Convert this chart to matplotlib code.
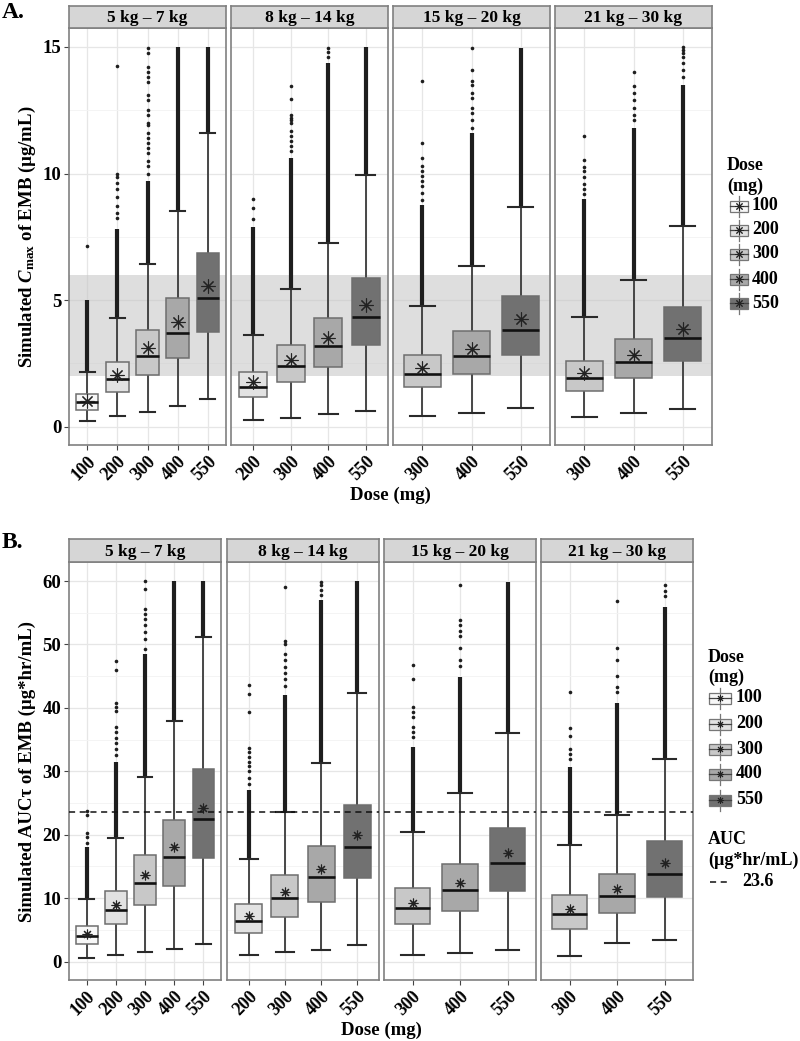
# ============================================================
# EMB SIMULATED CMAX / AUC BOXPLOTS BY WEIGHT BAND AND DOSE
# ============================================================

# =========================
# IMPORTS
# =========================
import numpy as np
import matplotlib
matplotlib.use("Agg")
import matplotlib.pyplot as plt
import matplotlib.transforms as mtransforms
from matplotlib.patches import Rectangle

plt.rcParams["font.family"] = ["Liberation Serif", "DejaVu Serif"]
plt.rcParams["font.weight"] = "bold"
plt.rcParams["mathtext.fontset"] = "custom"
plt.rcParams["mathtext.rm"] = "Liberation Serif:bold"
plt.rcParams["mathtext.it"] = "Liberation Serif:italic:bold"
plt.rcParams["mathtext.bf"] = "Liberation Serif:bold"

# =========================
# 1) DATA (READ OFF THE FIGURE)
# =========================
PANELS = ["5 kg – 7 kg", "8 kg – 14 kg", "15 kg – 20 kg", "21 kg – 30 kg"]
DOSES = [[100, 200, 300, 400, 550], [200, 300, 400, 550], [300, 400, 550], [300, 400, 550]]
DOSE_LEVELS = [100, 200, 300, 400, 550]
DOSE_COLORS = ["#F7F7F7", "#E2E2E2", "#C8C8C8", "#A8A8A8", "#717171"]

# CMAX (ug/mL)
CMAX_LO = [[0.21, 0.43, 0.59, 0.83, 1.08], [0.25, 0.36, 0.49, 0.63], [0.43, 0.55, 0.76], [0.39, 0.53, 0.72]]
CMAX_Q1 = [[0.68, 1.38, 2.04, 2.72, 3.75], [1.17, 1.76, 2.36, 3.21], [1.57, 2.07, 2.83], [1.43, 1.91, 2.61]]
CMAX_MED = [[0.96, 1.87, 2.80, 3.71, 5.10], [1.59, 2.40, 3.19, 4.34], [2.10, 2.80, 3.83], [1.93, 2.57, 3.51]]
CMAX_Q3 = [[1.29, 2.54, 3.82, 5.07, 6.88], [2.16, 3.24, 4.30, 5.88], [2.83, 3.79, 5.18], [2.58, 3.45, 4.72]]
CMAX_HI = [[2.16, 4.30, 6.42, 8.54, 11.62], [3.63, 5.44, 7.26, 9.94], [4.76, 6.36, 8.67], [4.34, 5.79, 7.92]]
CMAX_MEAN = [[1.00, 2.05, 3.10, 4.12, 5.55], [1.76, 2.65, 3.51, 4.79], [2.34, 3.09, 4.24], [2.14, 2.84, 3.88]]
# top of the solid run of outliers above each upper whisker
CMAX_DENSE = [[5.0, 7.8, 9.7, 15.0, 15.0], [7.9, 10.6, 14.35, 15.0], [8.76, 11.6, 14.96], [9.0, 11.8, 13.5]]
# isolated outliers above the solid run
CMAX_FLIERS = [
    [[7.15],
     [8.24, 8.43, 8.7, 9.09, 9.4, 9.63, 9.87, 10.0, 14.26],
     [10.0, 10.3, 10.5, 10.8, 11.0, 11.2, 11.4, 11.6, 11.9, 12.0, 12.3, 12.5, 12.9, 13.1,
      13.6, 13.8, 14.0, 14.2, 14.75, 14.96],
     [],
     []],
    [[8.2, 8.64, 8.99],
     [10.9, 11.1, 11.3, 11.5, 11.7, 12.0, 12.1, 12.2, 12.3, 12.95, 13.47],
     [14.6, 14.8, 14.95],
     []],
    [[8.96, 9.22, 9.5, 9.7, 9.9, 10.1, 10.3, 10.6, 11.2, 13.67],
     [11.8, 12.1, 12.4, 12.6, 13.0, 13.2, 13.5, 13.65, 14.1, 14.96],
     []],
    [[9.2, 9.4, 9.6, 9.85, 10.1, 10.25, 10.54, 11.5],
     [12.1, 12.3, 12.6, 12.9, 13.2, 13.47, 14.03],
     [13.8, 14.1, 14.35, 14.6, 14.75, 14.9, 15.0]],
]
CMAX_BAND = [2.0, 6.0]

# AUC TAU (ug*hr/mL)
AUC_LO = [[0.53, 1.0, 1.48, 1.95, 2.79], [1.0, 1.48, 1.89, 2.58], [1.0, 1.42, 1.79], [0.85, 3.0, 3.42]]
AUC_Q1 = [[2.74, 5.89, 8.88, 11.97, 16.38], [4.47, 6.99, 9.40, 13.13], [5.89, 8.03, 11.18], [5.10, 7.67, 10.24]]
AUC_MED = [[4.0, 8.14, 12.35, 16.44, 22.52], [6.46, 10.03, 13.29, 18.11], [8.5, 11.34, 15.54], [7.56, 10.3, 13.86]]
AUC_Q3 = [[5.62, 11.18, 16.76, 22.26, 30.3], [9.09, 13.6, 18.17, 24.72], [11.65, 15.39, 21.1], [10.46, 13.76, 18.96]]
AUC_HI = [[9.92, 19.43, 29.04, 38.0, 51.2], [16.13, 23.62, 31.24, 42.3], [20.38, 26.57, 36.1], [18.33, 23.1, 31.97]]
AUC_MEAN = [[4.41, 8.98, 13.6, 18.06, 24.25], [7.2, 10.98, 14.55, 19.9], [9.29, 12.35, 17.07], [8.25, 11.4, 15.5]]
AUC_DENSE = [[18.1, 31.5, 48.5, 60.0, 60.0], [27.0, 42.0, 57.0, 60.0], [33.86, 44.9, 59.9], [30.7, 40.7, 55.9]]
AUC_FLIERS = [
    [[18.7, 19.6, 20.2, 23.1, 23.8],
     [32.5, 33.5, 34.5, 35.3, 36.2, 37.0, 39.5, 40.2, 40.7, 46.05, 47.4],
     [49.3, 50.8, 52.0, 53.0, 54.0, 54.8, 55.6, 58.8, 60.0],
     [],
     []],
    [[28.0, 29.0, 30.0, 30.8, 31.5, 32.3, 33.0, 33.6, 39.4, 42.2, 43.6],
     [43.5, 44.5, 45.5, 46.5, 47.5, 48.5, 50.0, 50.6, 59.06],
     [57.8, 58.6, 59.3, 59.8],
     []],
    [[35.4, 36.2, 37.0, 38.6, 39.4, 40.2, 44.6, 46.8],
     [46.6, 47.5, 49.4, 51.4, 52.2, 53.0, 53.8, 59.4],
     []],
    [[31.9, 32.7, 33.5, 35.6, 36.9, 42.5],
     [42.5, 43.3, 45.0, 47.5, 49.4, 56.8],
     [57.7, 58.5, 59.3]],
]
AUC_TARGET = 23.6

# =========================
# 2) LAYOUT (PIXELS)
# =========================
W, H = 800, 1041
A_LEFTS = [69, 231, 393, 555]
A_WIDTH = 157
A_TOP, A_BOTTOM, A_STRIP = 28, 445, 22
B_LEFTS = [69, 227, 384, 541]
B_WIDTH = 152
B_TOP, B_BOTTOM, B_STRIP = 562, 980, 23

EDGE = "#6E6E6E"
FRAME = "#808080"
GRID_MAJOR = "#E6E6E6"
GRID_MINOR = "#F3F3F3"


def PX_AXES(FIG, LEFT, TOP, WIDTH, HEIGHT):
    return FIG.add_axes([LEFT / W, 1 - (TOP + HEIGHT) / H, WIDTH / W, HEIGHT / H])


def DRAW_STRIP(FIG, LEFT, TOP, WIDTH, HEIGHT, LABEL):
    SAX = PX_AXES(FIG, LEFT, TOP, WIDTH, HEIGHT)
    SAX.set_facecolor("#D6D6D6")
    SAX.set_xticks([])
    SAX.set_yticks([])
    for S in SAX.spines.values():
        S.set_color(FRAME)
        S.set_linewidth(1.2)
    SAX.text(0.5, 0.45, LABEL, ha="center", va="center", fontsize=12.5,
             fontweight="bold", transform=SAX.transAxes)


def DRAW_PANEL(AX, I, LO, Q1, MED, Q3, HI, MEAN, DENSE, FLIERS, YLIM, MAJOR, MINOR, STAR, SHOW_Y):
    N = len(DOSES[I])
    POS = np.arange(1, N + 1)
    STATS = []
    for J in range(N):
        STATS.append(dict(whislo=LO[I][J], q1=Q1[I][J], med=MED[I][J], q3=Q3[I][J],
                          whishi=HI[I][J], mean=MEAN[I][J], fliers=FLIERS[I][J]))

    # solid columns of outliers
    AX.vlines(POS, HI[I], DENSE[I], color="#1E1E1E", lw=3.0, zorder=2)

    BP = AX.bxp(STATS, positions=POS, widths=0.75, capwidths=0.5, patch_artist=True,
                showmeans=True, showfliers=True,
                boxprops=dict(edgecolor=EDGE, linewidth=1.1),
                whiskerprops=dict(color="#3A3A3A", linewidth=1.3),
                capprops=dict(color="#2A2A2A", linewidth=1.5),
                medianprops=dict(color="#111111", linewidth=1.9),
                meanprops=dict(marker=(8, 2, 0), markersize=STAR, markeredgecolor="#222222",
                               markerfacecolor="#222222", markeredgewidth=0.8),
                flierprops=dict(marker="o", markersize=2.6, markerfacecolor="#1E1E1E",
                                markeredgecolor="none"))
    for PATCH, DOSE in zip(BP["boxes"], DOSES[I]):
        PATCH.set_facecolor(DOSE_COLORS[DOSE_LEVELS.index(DOSE)])
        PATCH.set_zorder(3)
    for LINE in BP["medians"] + BP["means"]:
        LINE.set_zorder(4)

    AX.set_xlim(0.4, N + 0.6)
    AX.set_ylim(*YLIM)
    AX.set_xticks(POS)
    AX.set_xticklabels([str(D) for D in DOSES[I]], rotation=45, ha="right", va="top",
                       rotation_mode="anchor", fontsize=13, fontweight="bold")
    # nudge rotated labels a little right, as in the original
    SHIFT = mtransforms.ScaledTranslation(0.05, 0, AX.figure.dpi_scale_trans)
    for LBL in AX.get_xticklabels():
        LBL.set_transform(LBL.get_transform() + SHIFT)
    AX.set_yticks(MAJOR)
    AX.set_yticks(MINOR, minor=True)
    AX.tick_params(axis="y", which="minor", length=0)
    AX.tick_params(axis="both", which="major", length=3.5, width=0.8, color="#444444", pad=2)
    if SHOW_Y:
        AX.set_yticklabels([str(int(V)) for V in MAJOR], fontsize=13.5, fontweight="bold")
    else:
        AX.tick_params(axis="y", which="major", length=0, labelleft=False)
    AX.grid(True, which="major", color=GRID_MAJOR, lw=0.9, zorder=0)
    AX.grid(True, which="minor", axis="y", color=GRID_MINOR, lw=0.6, zorder=0)
    AX.set_axisbelow(True)
    for S in AX.spines.values():
        S.set_color(FRAME)
        S.set_linewidth(1.2)


def LEGEND_KEY(OV, X0, X1, YC, COLOR, HALF_H, STAR):
    XM = (X0 + X1) / 2
    OV.plot([XM, XM], [YC - HALF_H - 5, YC + HALF_H + 5], color="#777777", lw=0.9)
    OV.add_patch(Rectangle((X0, YC - HALF_H), X1 - X0, 2 * HALF_H, facecolor=COLOR,
                           edgecolor="#777777", lw=0.9))
    OV.plot([X0, X1], [YC, YC], color="#444444", lw=0.9)
    OV.plot([XM], [YC], marker=(8, 2, 0), markersize=STAR, color="#222222", mew=0.7)


# =========================
# 3) FIGURE
# =========================
FIG = plt.figure(figsize=(W / 100, H / 100), dpi=100)

# panel A: Cmax
for I in range(4):
    AX = PX_AXES(FIG, A_LEFTS[I], A_TOP, A_WIDTH, A_BOTTOM - A_TOP)
    AX.axhspan(CMAX_BAND[0], CMAX_BAND[1], color="#C4C4C4", alpha=0.55, lw=0, zorder=1)
    DRAW_PANEL(AX, I, CMAX_LO, CMAX_Q1, CMAX_MED, CMAX_Q3, CMAX_HI, CMAX_MEAN, CMAX_DENSE,
               CMAX_FLIERS, (-0.72, 15.75), [0, 5, 10, 15], [2.5, 7.5, 12.5], 10, I == 0)
    DRAW_STRIP(FIG, A_LEFTS[I], A_TOP - A_STRIP, A_WIDTH, A_STRIP, PANELS[I])

# panel B: AUC
for I in range(4):
    AX = PX_AXES(FIG, B_LEFTS[I], B_TOP, B_WIDTH, B_BOTTOM - B_TOP)
    AX.axhline(AUC_TARGET, color="#111111", lw=1.1, ls=(0, (4, 3)), zorder=5)
    DRAW_PANEL(AX, I, AUC_LO, AUC_Q1, AUC_MED, AUC_Q3, AUC_HI, AUC_MEAN, AUC_DENSE,
               AUC_FLIERS, (-2.9, 63.0), list(range(0, 61, 10)), list(range(5, 60, 10)), 7, I == 0)
    DRAW_STRIP(FIG, B_LEFTS[I], B_TOP - B_STRIP, B_WIDTH, B_STRIP, PANELS[I])

# =========================
# 4) TEXT + LEGENDS (OVERLAY IN PIXELS)
# =========================
OV = FIG.add_axes([0, 0, 1, 1])
OV.set_xlim(0, W)
OV.set_ylim(H, 0)
OV.axis("off")

OV.text(2, 12, "A.", fontsize=17, fontweight="bold", ha="left", va="center")
OV.text(2, 542, "B.", fontsize=17, fontweight="bold", ha="left", va="center")

OV.text(27, 237, r"Simulated $\mathit{C}_{\mathrm{max}}$ of EMB (µg/mL)", rotation=90,
        fontsize=13.5, fontweight="bold", ha="center", va="center")
OV.text(27, 771, "Simulated AUCτ of EMB (µg*hr/mL)", rotation=90,
        fontsize=13.5, fontweight="bold", ha="center", va="center")

OV.text(390, 495, "Dose (mg)", fontsize=13.5, fontweight="bold", ha="center", va="center")
OV.text(381, 1030, "Dose (mg)", fontsize=13.5, fontweight="bold", ha="center", va="center")

# dose legend, panel A
OV.text(727, 166, "Dose", fontsize=13, fontweight="bold", ha="left", va="center")
OV.text(727, 186, "(mg)", fontsize=13, fontweight="bold", ha="left", va="center")
for K, YC in enumerate([206, 230, 254, 279, 303]):
    LEGEND_KEY(OV, 730, 748, YC, DOSE_COLORS[K], 5.5, 6)
    OV.text(752, YC, str(DOSE_LEVELS[K]), fontsize=13, fontweight="bold", ha="left", va="center")

# dose legend, panel B
OV.text(708, 657, "Dose", fontsize=13, fontweight="bold", ha="left", va="center")
OV.text(708, 677, "(mg)", fontsize=13, fontweight="bold", ha="left", va="center")
for K, YC in enumerate([698, 724, 749, 774, 800]):
    LEGEND_KEY(OV, 709, 731, YC, DOSE_COLORS[K], 5.5, 5)
    OV.text(736, YC, str(DOSE_LEVELS[K]), fontsize=13, fontweight="bold", ha="left", va="center")

# target legend, panel B
OV.text(708, 840, "AUC", fontsize=13, fontweight="bold", ha="left", va="center")
OV.text(708, 860, "(µg*hr/mL)", fontsize=13, fontweight="bold", ha="left", va="center")
OV.plot([710, 729], [882, 882], color="#111111", lw=1.1, ls=(0, (4, 3)))
OV.text(742, 882, str(AUC_TARGET), fontsize=13, fontweight="bold", ha="left", va="center")

FIG.savefig("out.png", dpi=100)
